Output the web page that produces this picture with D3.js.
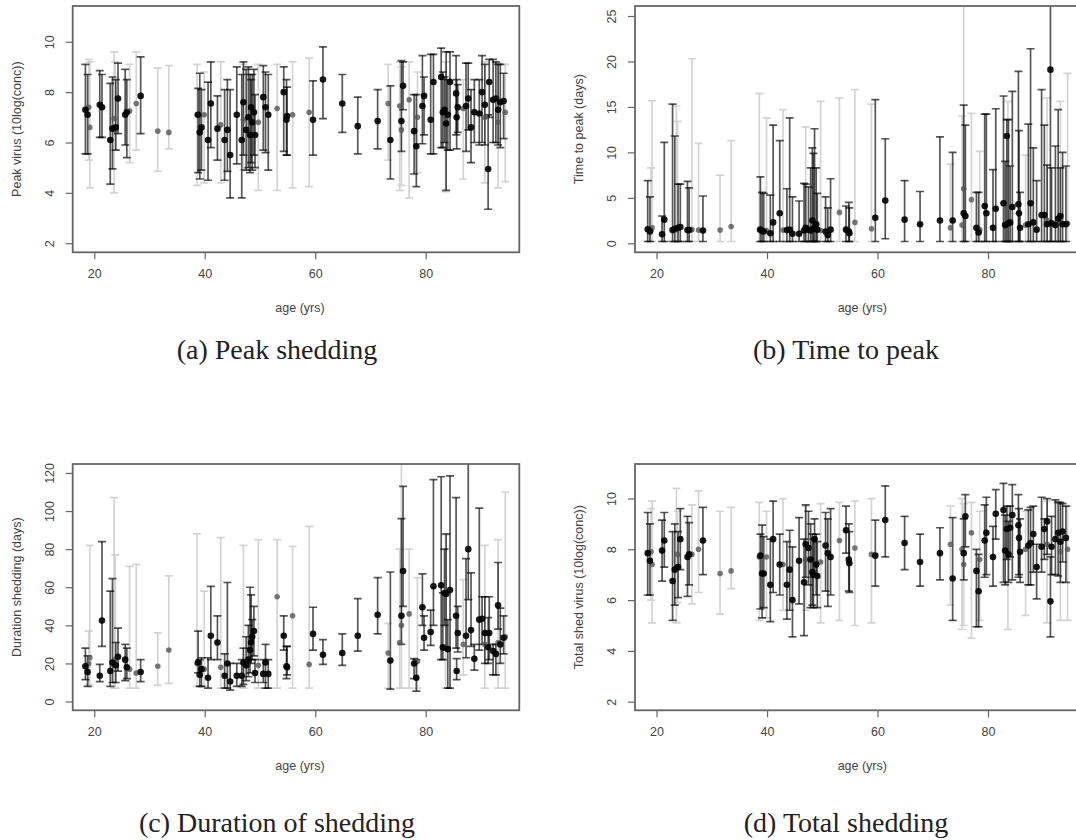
<!DOCTYPE html>
<html>
<head>
<meta charset="utf-8">
<script src="https://cdn.jsdelivr.net/npm/d3@7"></script>
<style>
  body { margin: 0; background: #fff; }
  svg { display: block; }
  .tick text { font-family: "Liberation Sans", Arial, sans-serif; font-size: 12.5px; fill: #444; }
  .tick line { stroke: #666; stroke-width: 1.2; }
</style>
</head>
<body>
<div id="chart"></div>
<script>
// subjects: age (yrs) and whether the interval is drawn grey
const ages = [18.4, 18.8, 19.2, 19.0, 21.0, 21.4, 22.9, 23.3, 23.6, 23.8, 23.9, 24.3, 25.6, 25.9, 26.4, 27.6, 28.4, 31.5, 33.5,
  38.6, 38.8, 39.1, 39.4, 39.9, 40.6, 41.1, 42.3, 42.9, 43.6, 44.1, 44.6, 45.8, 46.7, 47.0, 47.0, 47.5, 47.9, 48.2, 48.4, 48.6,
  48.9, 49.1, 49.7, 50.6, 51.0, 51.5, 53.1, 54.3, 54.8, 54.9, 55.9, 58.9, 59.6, 61.4, 64.9, 67.7, 71.3,
  73.2, 73.6, 75.3, 75.6, 75.6, 75.9, 77.0, 77.9, 78.3, 78.5, 79.4, 79.7, 80.9, 81.4, 82.8, 83.1, 83.4, 83.6, 83.7, 84.0,
  84.4, 85.5, 85.6, 85.8, 86.8, 87.3, 87.7, 88.2, 88.8, 89.7, 90.2, 90.7, 90.7, 91.3, 91.5, 92.2, 92.7, 93.1, 93.1, 93.5, 94.1, 94.4];
const grey = [0, 0, 1, 1, 0, 0, 0, 0, 1, 1, 0, 0, 0, 0, 1, 1, 0, 1, 1,
  1, 0, 0, 0, 1, 0, 0, 0, 1, 0, 0, 0, 0, 0, 0, 1, 0, 0, 0, 0, 0,
  0, 0, 1, 0, 0, 0, 1, 0, 0, 0, 1, 1, 0, 0, 0, 0, 0,
  1, 0, 1, 1, 0, 0, 1, 0, 0, 1, 0, 0, 0, 0, 0, 0, 0, 1, 0, 0,
  0, 0, 0, 0, 1, 0, 0, 0, 0, 0, 0, 0, 1, 0, 0, 0, 0, 1, 0, 0, 0, 1];

// [estimate, lower, upper] per subject
const peakShedding = [[7.3,5.55,9.1],[7.1,5.55,8.7],[6.6,4.2,9.2],[7.4,5.3,9.3],[7.5,6.2,8.85],[7.4,6.2,8.7],[6.1,4.35,8.35],[6.55,4.95,8.6],[6.95,4.0,9.6],[6.5,5.7,9.2],[6.6,5.7,8.5],[7.75,6.35,9.15],[7.1,5.9,8.9],[7.2,5.4,8.5],[7.25,5.2,9.1],[7.55,5.7,9.6],[7.85,6.35,9.4],[6.45,4.85,8.95],[6.4,5.75,9.05],
  [7.1,4.3,9.1],[7.1,4.8,8.15],[6.4,4.55,8.75],[6.6,4.9,8.1],[7.1,4.4,8.8],[6.1,4.5,8.4],[7.55,5.8,9.2],[6.55,5.3,7.85],[6.7,4.4,9.2],[6.1,4.5,8.1],[6.5,4.85,8.5],[5.5,3.8,8.1],[7.1,5.15,9.0],[6.1,3.8,8.7],[7.6,5.5,9.2],[6.9,4.9,9.1],[6.5,4.9,8.9],[7.0,5.0,9.0],[6.3,4.8,8.7],[7.4,5.2,8.5],[6.8,4.9,8.7],
  [7.2,5.5,8.9],[6.3,5.0,7.9],[6.8,4.1,9.1],[7.8,5.7,9.05],[7.4,5.6,8.8],[7.1,4.9,8.7],[7.35,4.1,9.1],[8.0,5.65,9.0],[6.9,5.5,8.5],[7.05,5.5,8.2],[7.1,4.2,9.2],[7.2,4.25,9.35],[6.9,5.5,8.45],[8.5,6.95,9.8],[7.55,6.4,8.7],[6.65,5.55,7.8],[6.85,5.75,8.1],
  [7.55,5.3,9.1],[6.1,4.55,8.25],[7.45,4.1,9.2],[6.5,4.3,9.0],[6.85,5.65,9.25],[8.25,7.3,9.2],[7.7,3.8,9.2],[6.45,4.75,7.9],[5.85,4.25,7.9],[7.0,4.8,8.8],[7.45,5.95,9.45],[7.85,6.3,8.6],[6.9,5.55,9.5],[8.4,5.55,9.5],[8.6,5.8,9.75],[7.2,5.8,8.8],[7.3,6.0,8.6],[7.0,4.05,9.2],[6.75,4.1,9.6],[7.1,5.7,8.5],
  [8.4,5.7,9.6],[7.95,6.3,9.45],[7.0,5.75,8.5],[7.4,6.4,8.3],[7.35,4.55,8.5],[7.45,5.65,9.15],[7.75,6.5,9.15],[6.6,5.2,8.1],[7.2,6.0,8.5],[7.15,5.9,8.5],[8.0,6.0,9.45],[7.5,5.9,9.1],[7.0,4.4,9.2],[4.95,3.35,7.1],[8.4,7.0,9.3],[7.7,6.0,9.3],[7.75,6.0,9.2],[6.8,4.2,9.15],[7.3,5.9,9.1],[7.6,5.8,9.1],[7.65,6.15,8.75],[7.2,4.45,9.1]];

const timeToPeak = [[1.55,0.2,6.9],[1.3,0.2,5.1],[1.7,0.2,15.7],[1.4,0.2,8.3],[1.0,0.2,3.0],[2.6,0.2,11.1],[1.45,0.2,15.3],[1.6,0.2,11.8],[1.5,0.2,15.1],[1.6,0.2,13.4],[1.7,0.2,6.5],[1.8,0.2,6.5],[1.45,0.2,6.8],[1.45,0.2,6.1],[1.5,0.2,20.3],[1.45,0.2,11.0],[1.4,0.2,5.2],[1.45,0.2,7.5],[1.85,0.2,11.3],
  [1.5,0.2,16.5],[1.5,0.2,7.3],[1.35,0.2,5.6],[1.3,0.2,5.5],[1.4,0.2,13.8],[1.1,0.2,5.3],[2.3,0.2,13.0],[3.3,0.2,11.3],[1.45,0.2,14.7],[1.45,0.2,6.0],[1.5,0.2,13.8],[1.05,0.2,5.1],[1.05,0.2,4.65],[1.4,0.2,6.6],[1.7,0.2,6.5],[1.5,0.2,12.8],[1.5,0.2,6.2],[1.4,0.2,8.3],[2.5,0.2,10.5],[1.6,0.2,9.9],[1.7,0.2,12.6],
  [2.1,0.2,8.3],[1.5,0.2,5.5],[1.4,0.2,15.6],[1.3,0.2,5.1],[0.9,0.2,3.9],[1.5,0.2,7.1],[3.4,0.2,16.0],[1.5,0.2,4.1],[1.3,0.2,4.5],[1.1,0.2,3.9],[2.3,0.2,16.9],[1.6,0.2,15.3],[2.8,0.2,15.8],[4.7,0.5,11.5],[2.6,0.2,6.9],[2.1,0.2,5.7],[2.5,0.2,11.7],
  [1.7,0.2,8.7],[2.5,0.2,10.0],[2.0,0.2,14.0],[6.0,0.2,30.0],[3.3,0.2,15.2],[3.0,0.2,13.0],[4.8,0.2,14.3],[1.7,0.2,5.6],[1.2,0.2,5.6],[1.5,0.2,10.1],[4.1,0.2,14.2],[3.3,0.2,14.2],[1.7,0.2,8.1],[3.8,0.2,14.8],[4.4,0.2,16.2],[2.0,0.2,9.0],[11.8,0.2,13.6],[2.0,0.2,15.6],[2.2,0.2,13.6],[2.3,0.2,8.5],
  [4.0,0.2,16.7],[4.3,0.2,18.9],[3.3,0.2,12.4],[1.7,0.2,5.6],[2.0,0.2,9.7],[2.1,0.2,13.1],[4.4,0.2,21.4],[2.3,0.2,10.5],[1.5,0.2,6.9],[3.1,0.2,16.9],[3.1,0.2,13.0],[2.1,0.2,8.6],[2.5,0.2,16.0],[19.1,0.2,30.0],[2.2,0.2,8.3],[2.0,0.2,10.7],[2.7,0.2,14.7],[2.3,0.2,15.6],[3.0,0.2,8.3],[2.1,0.2,10.0],[2.1,0.2,8.5],[2.2,0.2,18.7]];

const durationShedding = [[18.5,11.5,28],[15.5,8,24],[23,8,82],[20,9,37],[13.5,10.5,19.5],[42.5,29,84],[16,8,58],[20.5,10,64.5],[19,7,107],[22,7,77],[19,10,31],[23.5,16,38.5],[22,11,30],[18,12,28],[17,7,71],[15,7,72],[15.5,10.5,22],[18.5,8.5,36],[27,9.5,66],
  [20,8,88],[20.5,15,37],[14,8,22],[17,8,23],[17,8,58],[12.5,7,23],[34.5,22,60.5],[31,22,45],[18,7,86],[13.5,7,25],[20,7,62.5],[10.5,6,20],[13.5,8,20],[13.5,8,22],[20.5,9,28],[20,7,82],[19,11,34],[22,13,40],[27,15,60],[31,20,56],[34,22,43],
  [37,24,50],[15,10,22],[19,7,85],[14.5,10,22],[20.5,7,30],[14.5,7,22],[55,7,85],[34.5,27,45],[18.5,12,29],[18,14,29],[45,7,81.5],[19.5,7,92],[35.5,27,49.5],[24.5,19.5,32.5],[25.5,19,35.5],[34.5,26.5,54],[45.5,35.5,65],
  [25.5,7,41],[21.5,6.5,68],[31,7,80],[40,7,130],[45,30,96],[68.5,50,113],[46,7,80],[20,12,22.5],[12.5,5.5,22],[21,7,65],[49.5,40,67],[33.5,27,45],[36.5,29.5,48],[60.5,40,116.5],[61,22,118],[28.5,22,57],[57,40,80],[28,7,87.5],[56.5,27,88],[27.5,7,43],
  [58.5,7,118.5],[45,28,107],[16,11.5,22.5],[36,26,50],[30,14,64],[34.5,23,75],[80,53.5,130],[37.5,29,67.5],[22.5,16.5,30],[43,27,101.5],[43.5,30,55],[36,20,55],[30,7,82],[28.5,20,44],[36,22,55],[26.5,14,30],[25,14,30],[31,7,85],[50.5,38,73],[30,20,49],[33.5,25,45],[34,7,110]];

const totalShedding = [[7.85,6.2,9.45],[7.55,6.2,9.0],[7.4,5.1,9.9],[7.9,6.0,9.6],[7.95,6.75,9.15],[8.35,7.3,9.45],[6.75,5.2,8.7],[7.2,5.8,9.0],[7.3,5.1,10.4],[7.8,5.9,9.5],[7.3,6.1,8.7],[8.4,7.2,9.6],[7.7,6.15,9.3],[7.8,6.6,9.05],[7.8,5.85,9.75],[8.0,6.3,10.3],[8.35,7.0,9.65],[7.05,5.45,9.5],[7.15,6.45,9.65],
  [7.7,5.2,9.85],[7.75,5.65,8.6],[7.05,5.3,8.95],[7.05,5.7,8.5],[7.7,5.3,9.5],[6.6,5.15,8.4],[8.4,6.3,9.9],[7.4,6.2,8.6],[7.4,5.6,10.0],[6.6,5.25,8.3],[7.2,5.6,8.75],[6.0,4.55,8.1],[7.55,5.85,9.25],[6.7,4.6,8.4],[8.2,6.9,9.75],[7.6,5.6,9.7],[8.05,6.6,9.5],[7.6,5.7,9.0],[7.1,5.8,8.6],[7.0,5.7,8.4],[8.4,6.9,9.2],
  [7.4,6.2,8.6],[6.95,5.7,8.3],[7.5,5.1,9.8],[8.15,6.35,9.45],[7.85,5.75,9.2],[7.7,6.2,9.6],[8.35,5.2,9.85],[8.75,7.85,9.7],[7.6,6.35,9.0],[7.45,6.3,8.7],[8.05,5.0,9.9],[7.8,5.1,10.0],[7.75,6.55,9.15],[9.15,7.7,10.5],[8.25,7.2,9.3],[7.5,6.55,8.6],[7.85,6.8,8.85],
  [8.2,5.8,9.7],[6.85,5.2,9.25],[8.0,4.85,10.0],[7.4,5.0,9.8],[7.85,6.8,9.2],[9.3,8.1,10.15],[8.65,4.5,9.85],[7.15,4.95,8.0],[6.35,4.95,7.8],[7.6,5.2,9.5],[8.35,6.9,9.75],[8.65,7.0,10.05],[7.7,6.55,8.9],[9.4,8.4,10.35],[9.55,6.7,10.6],[7.95,6.6,9.35],[8.8,7.6,9.7],[7.8,4.85,9.7],[7.8,6.7,9.1],[8.85,7.7,9.7],
  [9.35,6.8,10.55],[8.95,6.9,10.15],[8.45,7.0,9.6],[7.9,6.7,9.2],[8.0,5.4,9.5],[8.15,6.6,9.55],[8.25,6.6,9.65],[8.6,7.1,9.7],[7.3,6.05,8.2],[8.1,7.1,10.05],[8.8,7.6,9.2],[9.1,7.8,10.0],[8.2,5.1,9.9],[5.95,4.55,7.7],[8.1,7.0,9.3],[8.4,7.0,9.95],[8.65,6.95,9.85],[7.9,5.2,9.8],[8.3,6.7,9.85],[8.7,7.5,9.8],[8.45,6.7,9.7],[8.0,5.2,9.7]];

const xTicks = [20, 40, 60, 80];
const xLabel = "age (yrs)";

const panels = [
  { values: peakShedding, yLabel: "Peak virus (10log(conc))", yDomain: [1.64, 11.42], yTicks: [2, 4, 6, 8, 10],
    caption: "(a) Peak shedding", left: 72.7, top: 6, capX: 277, capY: 359 },
  { values: timeToPeak, yLabel: "Time to peak (days)", yDomain: [-0.99, 26.1], yTicks: [0, 5, 10, 15, 20, 25],
    caption: "(b) Time to peak", left: 635, top: 6, capX: 846, capY: 359 },
  { values: durationShedding, yLabel: "Duration shedding (days)", yDomain: [-4.6, 124.7], yTicks: [0, 20, 40, 60, 80, 100, 120],
    caption: "(c) Duration of shedding", left: 72.7, top: 464, capX: 277, capY: 832 },
  { values: totalShedding, yLabel: "Total shed virus (10log(conc))", yDomain: [1.66, 11.36], yTicks: [2, 4, 6, 8, 10],
    caption: "(d) Total shedding", left: 635, top: 464, capX: 846, capY: 832 }
];

const W = 1076, H = 840, pw = 446.6, ph = 246.3, cap = 4;

const svg = d3.select("#chart").append("svg").attr("width", W).attr("height", H);

panels.forEach((p, i) => {
  const x = d3.scaleLinear().domain([16.1, 96.94]).range([0, pw]);
  const y = d3.scaleLinear().domain(p.yDomain).range([ph, 0]);
  const g = svg.append("g").attr("transform", `translate(${p.left},${p.top})`);

  g.append("clipPath").attr("id", "clip" + i)
    .append("rect").attr("width", pw).attr("height", ph);

  // x axis
  const xa = g.append("g").attr("transform", `translate(0,${ph})`)
    .call(d3.axisBottom(x).tickValues(xTicks).tickSize(7).tickPadding(10));
  xa.select(".domain").remove();

  // y axis, labels rotated like R
  const ya = g.append("g").call(d3.axisLeft(y).tickValues(p.yTicks).tickSize(7));
  ya.select(".domain").remove();
  ya.selectAll("text")
    .attr("x", null).attr("dy", null)
    .attr("text-anchor", "middle")
    .attr("dominant-baseline", "middle")
    .attr("transform", "translate(-22,0) rotate(-90)");

  g.append("text").attr("x", pw / 2 + 4).attr("y", ph + 56)
    .attr("text-anchor", "middle").attr("dominant-baseline", "middle")
    .style("font-family", "Liberation Sans, Arial, sans-serif").style("font-size", "12.5px").style("fill", "#444")
    .text(xLabel);

  g.append("text").attr("transform", `translate(-55,${ph / 2}) rotate(-90)`)
    .attr("text-anchor", "middle").attr("dominant-baseline", "middle")
    .style("font-family", "Liberation Sans, Arial, sans-serif").style("font-size", "12.5px").style("fill", "#444")
    .text(p.yLabel);

  const rows = p.values.map((v, k) => ({ age: ages[k], grey: grey[k], mid: v[0], lo: v[1], hi: v[2] }));
  const plot = g.append("g").attr("clip-path", `url(#clip${i})`);

  // grey intervals first, black ones on top
  [1, 0].forEach(flag => {
    const sub = rows.filter(d => d.grey === flag);
    const col = flag ? "#cfcfcf" : "#000";
    const op = flag ? 0.9 : 0.66;
    const bars = plot.append("g").attr("stroke", col).attr("stroke-opacity", op).attr("stroke-width", 1.7);
    bars.selectAll(".v").data(sub).join("line")
      .attr("x1", d => x(d.age)).attr("x2", d => x(d.age))
      .attr("y1", d => y(d.lo)).attr("y2", d => y(d.hi));
    bars.selectAll(".lo").data(sub).join("line").attr("class", "lo")
      .attr("x1", d => x(d.age) - cap).attr("x2", d => x(d.age) + cap)
      .attr("y1", d => y(d.lo)).attr("y2", d => y(d.lo));
    bars.selectAll(".hi").data(sub).join("line").attr("class", "hi")
      .attr("x1", d => x(d.age) - cap).attr("x2", d => x(d.age) + cap)
      .attr("y1", d => y(d.hi)).attr("y2", d => y(d.hi));
  });
  [1, 0].forEach(flag => {
    const sub = rows.filter(d => d.grey === flag);
    plot.append("g").selectAll("circle").data(sub).join("circle")
      .attr("cx", d => x(d.age)).attr("cy", d => y(d.mid))
      .attr("r", flag ? 2.8 : 3.3)
      .attr("fill", flag ? "#555" : "#000")
      .attr("fill-opacity", flag ? 0.8 : 0.9);
  });

  // plot frame
  g.append("rect").attr("width", pw).attr("height", ph)
    .attr("fill", "none").attr("stroke", "#666").attr("stroke-width", 1.8);

  svg.append("text").attr("x", p.capX).attr("y", p.capY)
    .attr("text-anchor", "middle")
    .style("font-family", "Liberation Serif, Times New Roman, serif").style("font-size", "28px").style("fill", "#222")
    .text(p.caption);
});
</script>
</body>
</html>
